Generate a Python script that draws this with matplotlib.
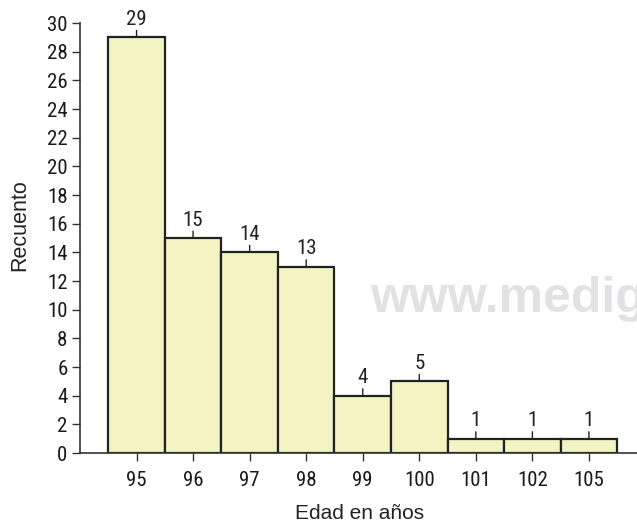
import matplotlib.pyplot as plt

plt.rcParams['font.family'] = ['Roboto Condensed', 'DejaVu Sans']

# age categories and counts
edades = ['95', '96', '97', '98', '99', '100', '101', '102', '105']
recuento = [29, 15, 14, 13, 4, 5, 1, 1, 1]

fig = plt.figure(figsize=(6.37, 5.25), dpi=100)
ax = fig.add_axes([0.1256, 0.137, 0.8744, 0.819])

x = list(range(len(edades)))
ax.bar(x, recuento, width=1.0, color='#f2f4c4', edgecolor='#222222', linewidth=1.6, zorder=2)

# value labels with a small stem above each bar
for xi, v in zip(x, recuento):
    ax.annotate('', xy=(xi, v), xytext=(0, 5), textcoords='offset points',
                arrowprops=dict(arrowstyle='-', color='#222222', lw=1.0,
                                shrinkA=0, shrinkB=0))
    ax.annotate(str(v), xy=(xi, v), xytext=(0, 6), textcoords='offset points',
                ha='center', va='bottom', fontsize=15, color='#222222')

ax.set_xlim(-1.0, 8.85)
ax.set_ylim(0, 30)
ax.set_xticks(x)
ax.set_xticklabels(edades)
ax.set_yticks(range(0, 31, 2))

for s in ['top', 'right']:
    ax.spines[s].set_visible(False)
for s in ['left', 'bottom']:
    ax.spines[s].set_color('#333333')
    ax.spines[s].set_linewidth(1.2)

ax.tick_params(axis='x', length=6, width=1.0, color='#333333', labelsize=15,
               labelcolor='#1a1a1a', pad=7)
ax.tick_params(axis='y', length=6, width=1.0, color='#333333', labelsize=15,
               labelcolor='#1a1a1a', pad=3)

# axis titles
fig.text(0.565, 0.011, 'Edad en años', fontsize=15, family='Liberation Sans',
         color='#222222', ha='center', va='baseline')
fig.text(0.031, 0.572, 'Recuento', fontsize=15.5, family='Liberation Sans',
         color='#222222', rotation=90, ha='center', va='center')

fig.text(0.581, 0.406, 'www.medig', fontsize=36, fontweight='bold',
         family='Liberation Sans', color='#e2e2e4', ha='left', va='baseline',
         zorder=0)

fig.savefig('out.png', dpi=100)
